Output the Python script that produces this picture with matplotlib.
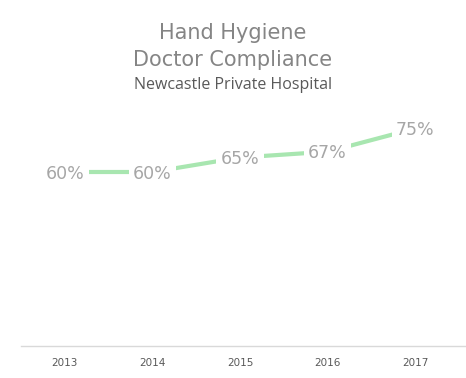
import matplotlib
matplotlib.use("Agg")
import matplotlib.pyplot as plt
from matplotlib.lines import Line2D

years = ["2013", "2014", "2015", "2016", "2017"]
compliance = [60, 60, 65, 67, 75]
value_labels = ["60%", "60%", "65%", "67%", "75%"]

W, H = 466, 378
fig = plt.figure(figsize=(W / 100, H / 100), dpi=100)
fig.patch.set_facecolor("white")

left, right = 21 / W, 459 / W
bottom, top = (H - 346) / H, (H - 56) / H
ax = fig.add_axes([left, bottom, right - left, top - bottom])

x = list(range(len(years)))
ax.plot(x, compliance, color="#a8e6b0", lw=3.0, solid_capstyle="butt", zorder=2)
for xi, v, lab in zip(x, compliance, value_labels):
    ax.text(xi, v - 0.6, lab, ha="center", va="center", fontsize=12.5,
            color="#a6a6a6", family="DejaVu Sans", zorder=3,
            bbox=dict(boxstyle="square,pad=0.25", fc="white", ec="none"))

ax.set_xlim(-0.5, len(years) - 0.5)
ax.set_ylim(0, 100)
ax.set_yticks([])
ax.set_xticks(x)
ax.set_xticklabels(years, fontsize=7.5, color="#595959", family="DejaVu Sans")
ax.tick_params(axis="x", length=0, pad=9)
for s in ["top", "left", "right", "bottom"]:
    ax.spines[s].set_visible(False)
fig.add_artist(Line2D([21 / W, 1.0], [bottom, bottom], color="#d9d9d9", lw=1.0,
                      transform=fig.transFigure))

fig.text(0.5, 1 - 33 / H, "Hand Hygiene", ha="center", va="center",
         fontsize=15, color="#858585", family="DejaVu Sans")
fig.text(0.5, 1 - 60 / H, "Doctor Compliance", ha="center", va="center",
         fontsize=15, color="#858585", family="DejaVu Sans")
fig.text(0.5, 1 - 85 / H, "Newcastle Private Hospital", ha="center", va="center",
         fontsize=11.5, color="#595959", family="Open Sans")

fig.savefig("out.png", dpi=100, facecolor="white")
